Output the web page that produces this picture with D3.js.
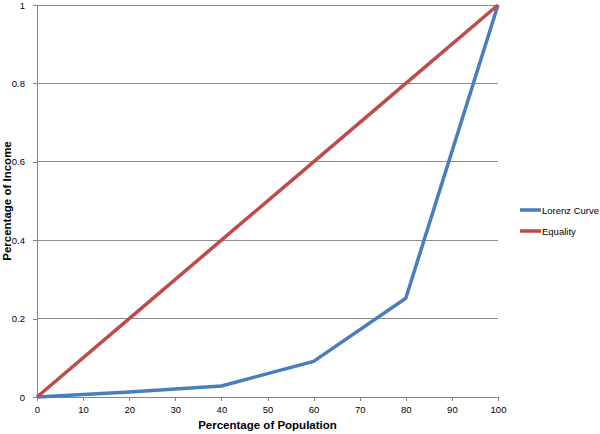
<!DOCTYPE html>
<html>
<head>
<meta charset="utf-8">
<script src="https://cdn.jsdelivr.net/npm/d3@7"></script>
<style>
  body { margin: 0; background: #fff; }
  text { font-family: "Liberation Sans", Arial, sans-serif; }
</style>
</head>
<body>
<div id="chart"></div>
<script>
// data
var population = [0, 20, 40, 60, 80, 100];
var lorenz = [0, 0.013, 0.028, 0.091, 0.252, 1];
var equality = [0, 0.2, 0.4, 0.6, 0.8, 1];
var seriesNames = ["Lorenz Curve", "Equality"];
var seriesColors = ["#4a7ebb", "#be4b48"];
var xTicks = [0, 10, 20, 30, 40, 50, 60, 70, 80, 90, 100];
var yTicks = [0, 0.2, 0.4, 0.6, 0.8, 1];

var width = 600, height = 434;
var plotLeft = 37, plotRight = 498, plotTop = 5, plotBottom = 397;

var svg = d3.select('#chart').append('svg')
            .attr('width', width).attr('height', height);

var x = d3.scaleLinear().domain([0, 100]).range([plotLeft, plotRight]);
var y = d3.scaleLinear().domain([0, 1]).range([plotBottom, plotTop]);

// gridlines
svg.append('g').selectAll('line')
   .data(yTicks.slice(1))
   .enter().append('line')
   .attr('x1', plotLeft).attr('x2', plotRight)
   .attr('y1', function(d) { return y(d); })
   .attr('y2', function(d) { return y(d); })
   .attr('stroke', '#8c8c8c').attr('stroke-width', 1)
   .attr('shape-rendering', 'crispEdges');

// axes
var xAxis = svg.append('g')
   .attr('transform', 'translate(0,' + plotBottom + ')')
   .call(d3.axisBottom(x).tickValues(xTicks).tickSize(4).tickPadding(5).tickFormat(d3.format('d')));
var yAxis = svg.append('g')
   .attr('transform', 'translate(' + plotLeft + ',0)')
   .call(d3.axisLeft(y).tickValues(yTicks).tickSize(4).tickPadding(8).tickFormat(function(d) { return String(d); }));

[xAxis, yAxis].forEach(function(a) {
    a.selectAll('path, line').attr('stroke', '#868686').attr('shape-rendering', 'crispEdges');
    a.selectAll('text').attr('fill', '#000').style('font-size', '9.5px');
});

// lines
var line = d3.line()
    .x(function(d) { return x(d[0]); })
    .y(function(d) { return y(d[1]); });

var series = [
    population.map(function(p, i) { return [p, lorenz[i]]; }),
    population.map(function(p, i) { return [p, equality[i]]; })
];

series.forEach(function(s, i) {
    svg.append('path')
       .datum(s)
       .attr('d', line)
       .attr('fill', 'none')
       .attr('stroke', seriesColors[i])
       .attr('stroke-width', 3.5)
       .attr('stroke-linejoin', 'round');
});

// axis titles
svg.append('text')
   .attr('x', x(50)).attr('y', 429)
   .attr('text-anchor', 'middle')
   .style('font-size', '11.5px').style('font-weight', 'bold')
   .text('Percentage of Population');
svg.append('text')
   .attr('transform', 'translate(11,' + y(0.5) + ') rotate(-90)')
   .attr('text-anchor', 'middle')
   .style('font-size', '11.5px').style('font-weight', 'bold')
   .text('Percentage of Income');

// legend
var legend = svg.append('g');
seriesNames.forEach(function(name, i) {
    var ly = 210 + i * 21;
    legend.append('line')
          .attr('x1', 520).attr('x2', 541)
          .attr('y1', ly).attr('y2', ly)
          .attr('stroke', seriesColors[i]).attr('stroke-width', 3.5);
    legend.append('text')
          .attr('x', 542).attr('y', ly + 3.5)
          .style('font-size', '9.5px')
          .text(name);
});
</script>
</body>
</html>
